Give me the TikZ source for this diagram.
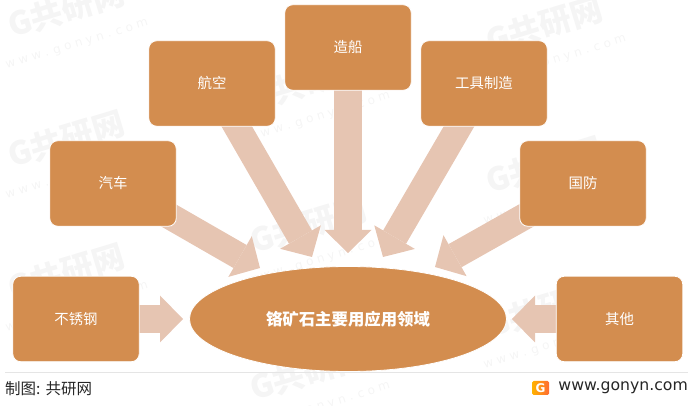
\documentclass[tikz,border=0pt]{standalone}
\usepackage{fontspec}
\usepackage{xcolor}
\setmainfont{Noto Sans CJK SC}
\newfontfamily\latinfont{DejaVu Sans}
\usetikzlibrary{arrows.meta,backgrounds,shapes.geometric}
\definecolor{boxorange}{HTML}{D38D4F}
\definecolor{arrowtan}{HTML}{E6C5B2}
\definecolor{markgrey}{HTML}{F5F5F5}
\tikzset{
    fieldbox/.style={draw=white, line width=0.8pt, fill=boxorange, rounded corners=8pt, minimum width=126.5pt, minimum height=85.5pt, inner sep=0pt, text=white, font=\fontsize{14.4}{16}\selectfont},
    hubnode/.style={draw=white, line width=0.8pt, fill=boxorange, ellipse, minimum width=317pt, minimum height=105pt, inner sep=0pt, text=white, font=\fontsize{16.4}{18}\selectfont\bfseries},
    flowarrow/.style={draw=arrowtan, line width=#1, -{Triangle[length=23pt, width=47pt, line width=0pt]}},
    watermark/.style={text=markgrey, rotate=17, inner sep=0pt, align=center, font=\fontsize{32}{32}\selectfont\bfseries}
}

\begin{document}
\begin{tikzpicture}[x=1pt, y=-1pt]
    \useasboundingbox (0,0) rectangle (697,406);

    % Application boxes
    \node[fieldbox] (steel) at (76,319) {不锈钢};
    \node[fieldbox] (car) at (113,183.5) {汽车};
    \node[fieldbox] (aviation) at (212,83.5) {航空};
    \node[fieldbox] (ship) at (348,47.5) {造船};
    \node[fieldbox] (tool) at (484,83.5) {工具制造};
    \node[fieldbox] (defence) at (583,183.5) {国防};
    \node[fieldbox] (other) at (619.5,319) {其他};

    % Centre ellipse
    \node[hubnode] (chrome) at (348,319) {铬矿石主要用应用领域};

    % Arrow tips
    \coordinate (steeltip) at (183,319);
    \coordinate (cartip) at (260,268);
    \coordinate (aviationtip) at (312,257);
    \coordinate (shiptip) at (348,253);
    \coordinate (tooltip) at (383,257);
    \coordinate (defencetip) at (435,267);
    \coordinate (othertip) at (512,319);

    \begin{scope}[on background layer]
        % Watermarks
        \foreach \wx/\wy in {70/22, 70/152, 70/285, 312/95, 312/238, 312/385, 548/38, 548/178, 548/322} {
            \node[watermark] at (\wx,\wy) {G共研网\\[-4pt]{\latinfont\fontsize{12}{12}\selectfont\mdseries w w w . g o n y n . c o m}};
        }
        % Arrows
        \draw[flowarrow=28pt] (steel.center) -- (steeltip);
        \draw[flowarrow=26.5pt] (car.center) -- (cartip);
        \draw[flowarrow=26.5pt] (aviation.center) -- (aviationtip);
        \draw[flowarrow=28pt] (ship.center) -- (shiptip);
        \draw[flowarrow=26.5pt] (tool.center) -- (tooltip);
        \draw[flowarrow=26.5pt] (defence.center) -- (defencetip);
        \draw[flowarrow=28pt] (other.center) -- (othertip);
    \end{scope}

    % Footer
    \coordinate (ruleleft) at (5,372);
    \coordinate (ruleright) at (688,372);
    \draw[black!10, line width=0.8pt] (ruleleft) -- (ruleright);
    \node[anchor=west, inner sep=0pt, text=black!85, font=\fontsize{15.5}{16}\selectfont] (source) at (5,389) {制图:\,\,共研网};
    \node[anchor=east, inner sep=0pt, text=black!85, font=\latinfont\fontsize{15.7}{16}\selectfont] (site) at (688,388) {www.gonyn.com};
    \node[left color=orange!60!yellow, right color=red!45!orange!80, rounded corners=1.5pt, minimum width=17pt, minimum height=14pt, inner sep=0pt, text=white, font=\latinfont\fontsize{12}{12}\selectfont\bfseries] (logo) at (540.5,388) {G};
\end{tikzpicture}
\end{document}
